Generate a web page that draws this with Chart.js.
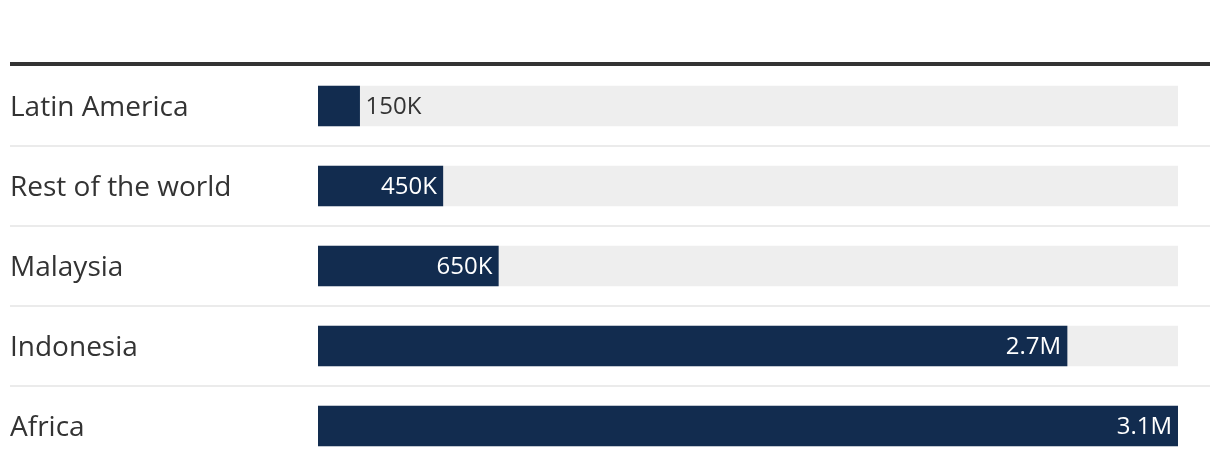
<!DOCTYPE html>
<html>
<head>
<meta charset="utf-8">
<script src="https://cdn.jsdelivr.net/npm/chart.js@4/dist/chart.umd.min.js"></script>
<style>
  html, body { margin: 0; padding: 0; background: #fff; }
  #wrap { width: 1220px; height: 474px; }
</style>
</head>
<body>
<div id="wrap"><canvas id="barChart"></canvas></div>
<script>
// Data
const categories = ['Latin America', 'Rest of the world', 'Malaysia', 'Indonesia', 'Africa'];
const values = [150000, 450000, 650000, 2700000, 3100000];
const valueLabels = ['150K', '450K', '650K', '2.7M', '3.1M'];

const maxValue = Math.max(...values);
const track = categories.map(() => maxValue);

// Separators + top rule across the full width
const rulesPlugin = {
    id: 'rules',
    beforeDatasetsDraw(chart) {
        const ctx = chart.ctx;
        const y = chart.scales.y;
        const left = 10, right = chart.width - 10;
        ctx.save();
        ctx.fillStyle = '#333333';
        ctx.fillRect(left, chart.chartArea.top - 4, right - left, 4);
        ctx.fillStyle = '#ebebeb';
        for (let i = 1; i < categories.length; i++) {
            const yy = (y.getPixelForValue(i - 1) + y.getPixelForValue(i)) / 2;
            ctx.fillRect(left, Math.round(yy) - 1, right - left, 2);
        }
        ctx.restore();
    }
};

// Value labels at the end of each bar
const valueLabelPlugin = {
    id: 'valueLabels',
    afterDatasetsDraw(chart) {
        const ctx = chart.ctx;
        const meta = chart.getDatasetMeta(1);
        ctx.save();
        ctx.font = '24px "Open Sans"';
        ctx.textBaseline = 'middle';
        meta.data.forEach((bar, i) => {
            const text = valueLabels[i];
            const w = ctx.measureText(text).width;
            const barW = bar.x - bar.base;
            if (barW > w + 14) {
                ctx.fillStyle = '#ffffff';
                ctx.textAlign = 'right';
                ctx.fillText(text, bar.x - 6, bar.y + 1);
            } else {
                ctx.fillStyle = '#333333';
                ctx.textAlign = 'left';
                ctx.fillText(text, bar.x + 6, bar.y + 1);
            }
        });
        ctx.restore();
    }
};

new Chart(document.getElementById('barChart'), {
    type: 'bar',
    data: {
        labels: categories,
        datasets: [{
            data: track,
            backgroundColor: '#eeeeee',
            grouped: false,
            order: 2,
            barThickness: 40
        }, {
            data: values,
            backgroundColor: '#122c4f',
            grouped: false,
            order: 1,
            barThickness: 40
        }]
    },
    options: {
        indexAxis: 'y',
        responsive: true,
        maintainAspectRatio: false,
        animation: false,
        layout: { padding: { top: 66, bottom: 8, left: 10, right: 42 } },
        plugins: {
            legend: { display: false },
            tooltip: { enabled: false }
        },
        scales: {
            x: { display: false, min: 0, max: maxValue },
            y: {
                grid: { display: false },
                border: { display: false },
                afterFit(scale) {
                    scale.width = 308;
                    scale.paddingTop = 0;
                    scale.paddingBottom = 0;
                },
                ticks: {
                    crossAlign: 'far',
                    padding: 0,
                    labelOffset: 2,
                    color: '#333333',
                    font: { family: '"Open Sans"', size: 28 }
                }
            }
        }
    },
    plugins: [rulesPlugin, valueLabelPlugin]
});
</script>
</body>
</html>
